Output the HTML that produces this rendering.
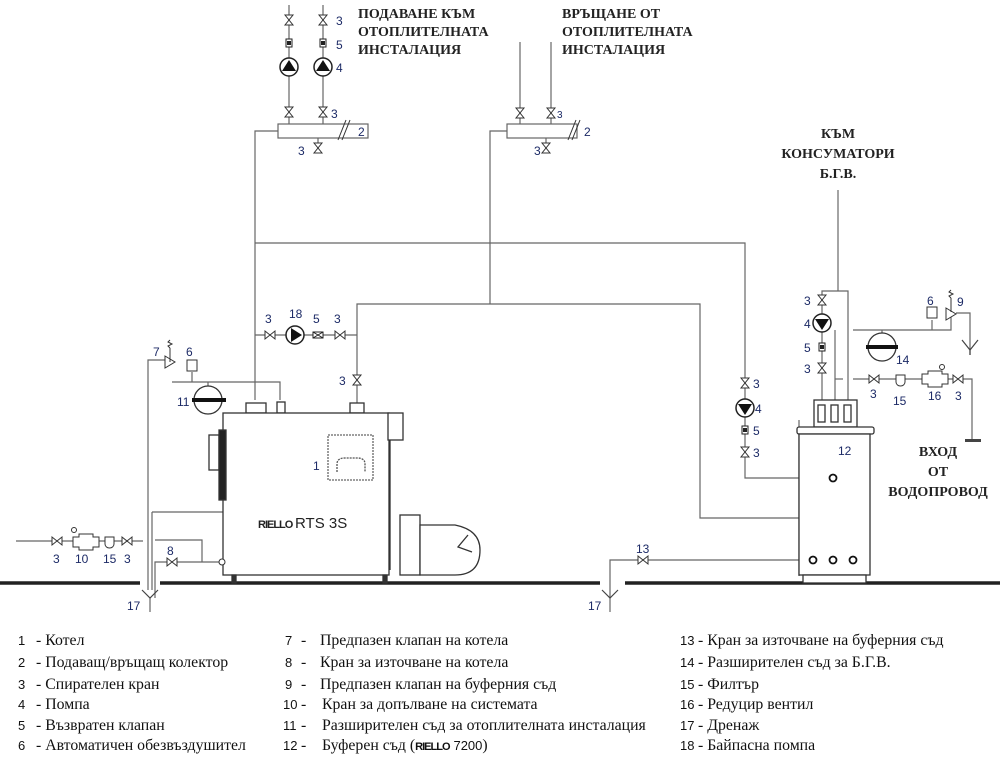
<!DOCTYPE html>
<html><head><meta charset="utf-8"><style>
body{margin:0;background:#fff}
svg{display:block}
.n{font-family:"Liberation Sans",sans-serif;font-size:12px;fill:#1c2a66}
.h{font-family:"Liberation Serif","Noto Serif CJK SC",serif;font-size:14px;font-weight:bold;fill:#222}
.l{font-family:"Liberation Serif",serif;font-size:15.8px;fill:#111}
.ln{font-family:"Liberation Sans",sans-serif;font-size:13px;fill:#111}
</style></head><body>
<svg width="1000" height="762" viewBox="0 0 1000 762" xmlns="http://www.w3.org/2000/svg">
<defs>
<path id="vv" d="M-4,-5 L4,-5 L-4,5 L4,5 Z" fill="#fff" stroke="#333" stroke-width="1"/>
<path id="hv" d="M-5,-4 L-5,4 L5,-4 L5,4 Z" fill="#fff" stroke="#333" stroke-width="1"/>
<g id="pu"><circle r="9" fill="#fff" stroke="#222" stroke-width="1.5"/><path d="M-7,4 L7,4 L0,-7 Z" fill="#111"/></g>
<g id="pd"><circle r="9" fill="#fff" stroke="#222" stroke-width="1.5"/><path d="M-7,-4 L7,-4 L0,7 Z" fill="#111"/></g>
<g id="pr"><circle r="9" fill="#fff" stroke="#222" stroke-width="1.5"/><path d="M-4,-7 L-4,7 L7,0 Z" fill="#111"/></g>
<g id="ck"><rect x="-3" y="-4" width="6" height="8" fill="#fff" stroke="#222"/><rect x="-2" y="-2" width="4" height="4" fill="#222"/></g>
<g id="ckh"><rect x="-5" y="-3" width="10" height="6" fill="#fff" stroke="#222"/><path d="M-5,-3 L5,3 M-5,3 L5,-3" stroke="#222"/></g>
<g id="oc"><circle r="3.5" fill="#fff" stroke="#111" stroke-width="1.8"/></g>
</defs>
<g fill="none" stroke="#666" stroke-width="1.2">
<line x1="289" y1="5" x2="289" y2="125"/><line x1="323" y1="5" x2="323" y2="125"/>
<rect x="278" y="124" width="90" height="14" fill="#fff"/>
<polyline points="278,131 255,131 255,400"/>
<line x1="318" y1="138" x2="318" y2="150"/>
<line x1="520" y1="42" x2="520" y2="125"/><line x1="551" y1="42" x2="551" y2="125"/>
<rect x="507" y="124" width="70" height="14" fill="#fff"/>
<polyline points="507,131 490,131 490,304"/>
<line x1="546" y1="138" x2="546" y2="150"/>
<polyline points="255,243 745,243 745,478 829,478"/>
<polyline points="357,404 357,304 700,304 700,518 833,518 833,556"/>
<line x1="255" y1="335" x2="357" y2="335"/>
<polyline points="172,382 280,382 280,400"/>
<line x1="192" y1="372" x2="192" y2="382"/>
<line x1="208" y1="382" x2="208" y2="390"/>
<polyline points="165,360 148,360 148,590"/>
<line x1="152" y1="512" x2="152" y2="590"/>
<polyline points="152,512 225,512"/>
<polyline points="155,540 202,540 202,562"/>
<polyline points="155,598 155,562 222,562"/>
<line x1="16" y1="541" x2="143" y2="541"/>
<line x1="150" y1="598" x2="150" y2="612"/>
<polyline points="610,598 610,560 809,560"/>
<line x1="610" y1="598" x2="610" y2="612"/>
<line x1="838" y1="190" x2="838" y2="291"/>
<polyline points="822,400 822,291 848,291 848,400"/>
<polyline points="835,400 835,330"/>
<polyline points="853,330 951,330 951,313"/>
<line x1="932" y1="320" x2="932" y2="330"/>
<line x1="882" y1="330" x2="882" y2="337"/>
<polyline points="956,313 970,313 970,355"/>
<polyline points="835,379 843,379"/><polyline points="853,379 972,379 972,440"/>
<line x1="799" y1="420" x2="799" y2="576"/>
</g>
<g stroke="#222" stroke-width="3.5"><line x1="0" y1="583" x2="140" y2="583"/><line x1="160" y1="583" x2="600" y2="583"/><line x1="625" y1="583" x2="1000" y2="583"/></g>
<rect x="965" y="439" width="16" height="3" fill="#444"/>
<g stroke="#444" fill="none" stroke-width="1.2"><path d="M142,590 L150,598 L158,590"/><path d="M602,590 L610,598 L618,590"/><path d="M962,340 L970,350 L978,340"/><line x1="970" y1="350" x2="970" y2="355"/></g>
<use href="#vv" x="289" y="20"/><use href="#vv" x="323" y="20"/>
<use href="#ck" x="289" y="43"/><use href="#ck" x="323" y="43"/>
<use href="#pu" x="289" y="67"/><use href="#pu" x="323" y="67"/>
<use href="#vv" x="289" y="112"/><use href="#vv" x="323" y="112"/>
<use href="#vv" x="318" y="148"/>
<use href="#vv" x="520" y="113"/><use href="#vv" x="551" y="113"/>
<use href="#vv" x="546" y="148"/>
<path d="M338,140 L346,120 M342,140 L350,120" stroke="#333" fill="none"/>
<path d="M568,140 L576,120 M572,140 L580,120" stroke="#333" fill="none"/>
<use href="#hv" x="270" y="335"/><use href="#pr" x="295" y="335"/><use href="#ckh" x="318" y="335"/><use href="#hv" x="340" y="335"/>
<use href="#vv" x="357" y="380"/>
<use href="#vv" x="745" y="383"/><use href="#pd" x="745" y="408"/><use href="#ck" x="745" y="430"/><use href="#vv" x="745" y="452"/>
<use href="#vv" x="822" y="300"/><use href="#pd" x="822" y="323"/><use href="#ck" x="822" y="347"/><use href="#vv" x="822" y="368"/>
<use href="#hv" x="874" y="379"/><use href="#hv" x="958" y="379"/>
<path d="M896,375 h9 v7 a4.5,4 0 0 1 -9,0 Z" fill="#fff" stroke="#333"/>
<path d="M922,374 h6 v-3 h14 v3 h6 v10 h-6 v3 h-14 v-3 h-6 Z" fill="#fff" stroke="#333"/><circle cx="942" cy="367" r="2.5" fill="#fff" stroke="#333"/>
<use href="#hv" x="57" y="541"/><use href="#hv" x="127" y="541"/><use href="#hv" x="172" y="562"/><use href="#hv" x="643" y="560"/>
<path d="M105,537 h9 v7 a4.5,4 0 0 1 -9,0 Z" fill="#fff" stroke="#333"/>
<path d="M73,537 h6 v-3 h14 v3 h6 v10 h-6 v3 h-14 v-3 h-6 Z" fill="#fff" stroke="#333"/><circle cx="74" cy="530" r="2.5" fill="#fff" stroke="#333"/>
<path d="M165,356 L175,362 L165,368 Z M170,362 L170,348" fill="#fff" stroke="#333"/><path d="M170,348 l-2,-2 l4,-2 l-4,-2 l2,-2" stroke="#333" fill="none"/>
<rect x="187" y="360" width="10" height="11" fill="#fff" stroke="#333"/>
<path d="M946,308 L956,314 L946,320 Z M951,312 L951,298" fill="#fff" stroke="#333"/><path d="M951,298 l-2,-2 l4,-2 l-4,-2 l2,-2" stroke="#333" fill="none"/>
<rect x="927" y="307" width="10" height="11" fill="#fff" stroke="#333"/>
<circle cx="208" cy="400" r="14" fill="#fff" stroke="#333" stroke-width="1.3"/><rect x="192" y="398" width="34" height="4" fill="#111"/>
<circle cx="882" cy="347" r="14" fill="#fff" stroke="#333" stroke-width="1.3"/><rect x="866" y="345" width="32" height="4" fill="#111"/>
<g stroke="#333" stroke-width="1.3" fill="#fff">
<rect x="246" y="403" width="20" height="10"/><rect x="277" y="402" width="8" height="11"/><rect x="350" y="403" width="14" height="10"/>
<rect x="223" y="413" width="166" height="162"/>
<rect x="388" y="413" width="15" height="27"/><line x1="390" y1="440" x2="390" y2="570" fill="none"/>
<rect x="209" y="435" width="10" height="35"/><rect x="219" y="430" width="7" height="70" fill="#222"/>
<rect x="328" y="435" width="45" height="45" stroke-dasharray="2,1" stroke="#666"/>
<path d="M337,472 v-8 q0,-6 8,-6 h12 q8,0 8,6 v8" fill="none" stroke="#555" stroke-dasharray="2,1"/>
<rect x="232" y="575" width="4" height="8" fill="#333"/><rect x="383" y="575" width="4" height="8" fill="#333"/>
<rect x="400" y="515" width="20" height="60"/><path d="M420,525 h35 q25,5 25,25 q0,25 -25,25 h-35 Z"/><path d="M468,535 l-10,12 l14,5" fill="none"/>
</g>
<g stroke="#333" stroke-width="1.3" fill="#fff">
<rect x="814" y="400" width="43" height="27"/>
<rect x="818" y="405" width="7" height="17"/><rect x="831" y="405" width="7" height="17"/><rect x="844" y="405" width="7" height="17"/>
<rect x="797" y="427" width="77" height="7" rx="2"/>
<rect x="799" y="434" width="71" height="141"/>
<rect x="803" y="575" width="63" height="8"/>
</g>
<use href="#oc" x="833" y="478"/><use href="#oc" x="813" y="560"/><use href="#oc" x="833" y="560"/><use href="#oc" x="853" y="560"/>
<circle cx="222" cy="562" r="3" fill="#fff" stroke="#333"/>
<text x="258" y="528" font-family="Liberation Sans,sans-serif" font-size="11" font-weight="bold" fill="#222" letter-spacing="-1">RIELLO</text>
<text x="295" y="528" font-family="Liberation Sans,sans-serif" font-size="15" fill="#222">RTS 3S</text>
<g class="n">
<text x="336" y="25">3</text><text x="336" y="49">5</text><text x="336" y="72">4</text><text x="331" y="118">3</text><text x="298" y="155">3</text><text x="358" y="136">2</text>
<text x="557" y="118" font-size="10">3</text><text x="534" y="155">3</text><text x="584" y="136">2</text>
<text x="265" y="323">3</text><text x="289" y="318">18</text><text x="313" y="323">5</text><text x="334" y="323">3</text>
<text x="339" y="385">3</text><text x="153" y="356">7</text><text x="186" y="356">6</text><text x="177" y="406">11</text><text x="313" y="470">1</text>
<text x="753" y="388">3</text><text x="755" y="413">4</text><text x="753" y="435">5</text><text x="753" y="457">3</text>
<text x="804" y="305">3</text><text x="804" y="328">4</text><text x="804" y="352">5</text><text x="804" y="373">3</text>
<text x="927" y="305">6</text><text x="957" y="306">9</text><text x="896" y="364">14</text>
<text x="870" y="398">3</text><text x="893" y="405">15</text><text x="928" y="400">16</text><text x="955" y="400">3</text>
<text x="838" y="455">12</text>
<text x="53" y="563">3</text><text x="75" y="563">10</text><text x="103" y="563">15</text><text x="124" y="563">3</text><text x="167" y="555">8</text>
<text x="127" y="610">17</text><text x="636" y="553">13</text><text x="588" y="610">17</text>
</g>
<g class="h">
<text x="358" y="18">ПОДАВАНЕ КЪМ</text><text x="358" y="36">ОТОПЛИТЕЛНАТА</text><text x="358" y="54">ИНСТАЛАЦИЯ</text>
<text x="562" y="18">ВРЪЩАНЕ ОТ</text><text x="562" y="36">ОТОПЛИТЕЛНАТА</text><text x="562" y="54">ИНСТАЛАЦИЯ</text>
<text x="838" y="138" text-anchor="middle">КЪМ</text><text x="838" y="158" text-anchor="middle">КОНСУМАТОРИ</text><text x="838" y="178" text-anchor="middle">Б.Г.В.</text>
<text x="938" y="456" text-anchor="middle">ВХОД</text><text x="938" y="476" text-anchor="middle">ОТ</text><text x="938" y="496" text-anchor="middle">ВОДОПРОВОД</text>
</g>
<g class="ln">
<text x="18" y="645">1</text><text x="18" y="667">2</text><text x="18" y="689">3</text><text x="18" y="709">4</text><text x="18" y="730">5</text><text x="18" y="750">6</text>
<text x="285" y="645">7</text><text x="285" y="667">8</text><text x="285" y="689">9</text><text x="283" y="709">10</text><text x="283" y="730">11</text><text x="283" y="750">12</text>
<text x="680" y="645">13</text><text x="680" y="667">14</text><text x="680" y="689">15</text><text x="680" y="709">16</text><text x="680" y="730">17</text><text x="680" y="750">18</text>
</g>
<g class="l">
<text x="36" y="645">- Котел</text><text x="36" y="667">- Подаващ/връщащ колектор</text><text x="36" y="689">- Спирателен кран</text>
<text x="36" y="709">- Помпа</text><text x="36" y="730">- Възвратен клапан</text><text x="36" y="750">- Автоматичен обезвъздушител</text>
<text x="301" y="645">-</text><text x="301" y="667">-</text><text x="301" y="689">-</text><text x="301" y="709">-</text><text x="301" y="730">-</text><text x="301" y="750">-</text>
<text x="320" y="645">Предпазен клапан на котела</text><text x="320" y="667">Кран за източване на котела</text><text x="320" y="689">Предпазен клапан на буферния съд</text>
<text x="322" y="709">Кран за допълване на системата</text><text x="322" y="730">Разширителен съд за отоплителната инсталация</text><text x="322" y="750">Буферен съд (<tspan font-family="Liberation Sans,sans-serif" font-weight="bold" font-size="11" letter-spacing="-1">RIELLO</tspan>  <tspan font-family="Liberation Sans,sans-serif" font-size="13">7200</tspan>)</text>
<text x="698" y="645">- Кран за източване на буферния съд</text><text x="698" y="667">- Разширителен съд за Б.Г.В.</text><text x="698" y="689">- Филтър</text>
<text x="698" y="709">- Редуцир вентил</text><text x="698" y="730">- Дренаж</text><text x="698" y="750">- Байпасна помпа</text>
</g>
</svg>
</body></html>
